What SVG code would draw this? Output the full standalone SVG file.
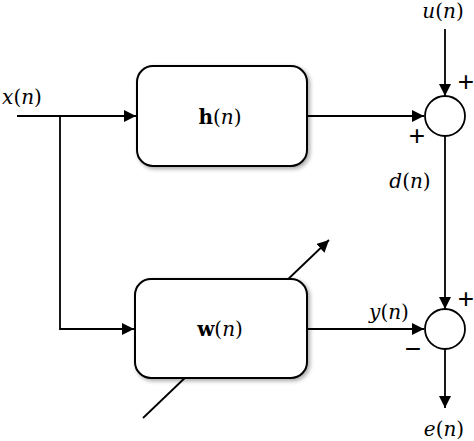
<svg xmlns="http://www.w3.org/2000/svg" width="474" height="441" viewBox="0 0 474 441">
<style>
.ln{stroke:#000;stroke-width:1.8;fill:none}
.box{fill:#fff;stroke:#000;stroke-width:2}
.sum{fill:#fff;stroke:#000;stroke-width:1.8}
.t{font-family:"DejaVu Serif","Liberation Serif",serif;font-size:20px;fill:#000}
.i{font-style:italic}
.b{font-weight:bold}
.s{font-family:"Liberation Sans","DejaVu Sans",sans-serif;font-size:28px;fill:#000}
</style>
<defs>
<marker id="ah" viewBox="0 0 12 12" refX="12" refY="6" markerWidth="12" markerHeight="12" markerUnits="userSpaceOnUse" orient="auto">
<path d="M0,0 L12,6 L0,12 Z" fill="#000"/>
</marker>
<filter id="sh" x="-10%" y="-10%" width="130%" height="130%">
<feGaussianBlur in="SourceAlpha" stdDeviation="2"/>
<feOffset dx="2" dy="2"/>
<feComponentTransfer><feFuncA type="linear" slope="0.35"/></feComponentTransfer>
<feMerge><feMergeNode/><feMergeNode in="SourceGraphic"/></feMerge>
</filter>
</defs>
<g id="connectors">
<line class="ln" x1="17" y1="116" x2="136" y2="116" marker-end="url(#ah)"/>
<polyline class="ln" points="60,116 60,329 134,329" marker-end="url(#ah)"/>
<line class="ln" x1="307" y1="116" x2="424" y2="116" marker-end="url(#ah)"/>
<line class="ln" x1="445" y1="29" x2="445" y2="96" marker-end="url(#ah)"/>
<line class="ln" x1="445" y1="136" x2="445" y2="309" marker-end="url(#ah)"/>
<line class="ln" x1="307" y1="329" x2="424" y2="329" marker-end="url(#ah)"/>
<line class="ln" x1="445" y1="349" x2="445" y2="408" marker-end="url(#ah)"/>
<line class="ln" x1="143" y1="418" x2="329" y2="240" marker-end="url(#ah)"/>
</g>
<g id="node-h">
<rect class="box" x="137" y="66" width="170" height="100" rx="16" filter="url(#sh)"/>
<text class="t" x="220" y="124" text-anchor="middle"><tspan class="b">h</tspan>(<tspan class="i">n</tspan>)</text>
</g>
<g id="node-w">
<rect class="box" x="135" y="279" width="172" height="99" rx="16" filter="url(#sh)"/>
<text class="t" x="220" y="336" text-anchor="middle"><tspan class="b">w</tspan>(<tspan class="i">n</tspan>)</text>
</g>
<g id="sum1">
<circle class="sum" cx="445" cy="116" r="20"/>
</g>
<g id="sum2">
<circle class="sum" cx="445" cy="329" r="20"/>
</g>
<g id="labels">
<text class="t" x="22" y="104" text-anchor="middle"><tspan class="i">x</tspan>(<tspan class="i">n</tspan>)</text>
<text class="t" x="443" y="18" text-anchor="middle"><tspan class="i">u</tspan>(<tspan class="i">n</tspan>)</text>
<text class="t" x="410" y="188" text-anchor="middle"><tspan class="i">d</tspan>(<tspan class="i">n</tspan>)</text>
<text class="t" x="389" y="319" text-anchor="middle"><tspan class="i">y</tspan>(<tspan class="i">n</tspan>)</text>
<text class="t" x="444" y="436" text-anchor="middle"><tspan class="i">e</tspan>(<tspan class="i">n</tspan>)</text>
<text class="s" x="466" y="91" text-anchor="middle">+</text>
<text class="s" x="417" y="145" text-anchor="middle">+</text>
<text class="s" x="466" y="308" text-anchor="middle">+</text>
<text class="s" x="413" y="358" text-anchor="middle">−</text>
</g>
</svg>
